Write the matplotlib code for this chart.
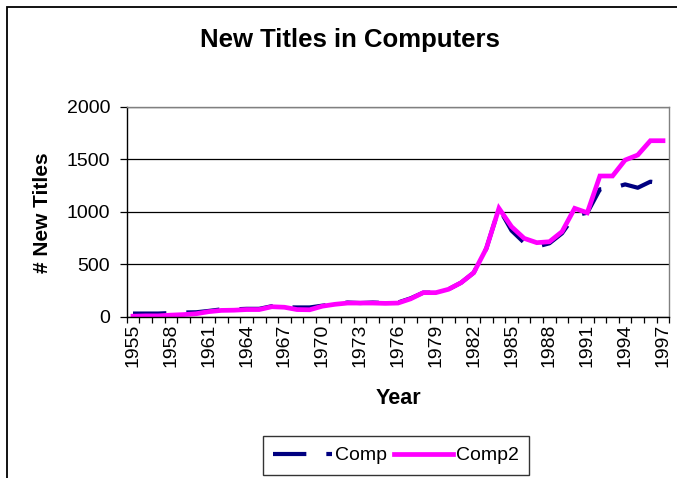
import numpy as np
import matplotlib.pyplot as plt
from matplotlib.patches import Rectangle
from matplotlib.lines import Line2D

plt.rcParams['font.family'] = ['Liberation Sans', 'DejaVu Sans']

years = list(range(1955, 1998))
comp = [30, 30, 30, 35, 40, 42, 55, 70, 70, 75, 75, 100, 90, 88, 88, 105,
        120, 135, 130, 135, 130, 135, 175, 229, 229, 261, 324, 419, 650, 1032,
        820, 705, 667, 699, 794, 965, 990, 1213, 1225, 1260, 1228, 1286, 1270]
comp2 = [5, 8, 8, 15, 20, 28, 48, 60, 62, 68, 68, 95, 90, 68, 66, 100,
         118, 130, 130, 130, 127, 130, 170, 229, 229, 261, 324, 419, 650, 1032,
         857, 746, 705, 714, 810, 1032, 990, 1340, 1340, 1492, 1540, 1676, 1676]
yticks = [0, 500, 1000, 1500, 2000]

W, H = 677, 478
fig = plt.figure(figsize=(W / 100, H / 100), dpi=100)
ax = fig.add_axes([126.7 / W, 1 - 316.7 / H, (669.3 - 126.7) / W, (316.7 - 106.7) / H])

# outer chart border (only left and top edges fall inside the image)
fig.patches.append(Rectangle((7 / W, -0.1), 1.2, (H - 7) / H + 0.1,
                             transform=fig.transFigure, fill=False,
                             edgecolor='black', linewidth=1.3))

navy_dash = (8, 4.8)
x = np.arange(len(years))
ax.plot(x, comp, color='#000080', linewidth=3.0, dashes=navy_dash,
        label='Comp')
ax.plot(x, comp2, color='#FF00FF', linewidth=3.4, solid_joinstyle='miter',
        label='Comp2')

ax.set_xlim(-0.5, len(years) - 0.5)
ax.set_ylim(0, 2000)
ax.set_yticks(yticks)
ax.set_yticklabels([str(v) for v in yticks], fontsize=14)
ax.tick_params(axis='y', direction='out', length=5, width=0.9, pad=7)

# tick marks between categories, labels every third year
ax.set_xticks(np.arange(-0.5, len(years), 1.0))
ax.set_xticklabels([])
ax.set_xticks(x[::3], minor=True)
ax.set_xticklabels([str(y) for y in years[::3]], minor=True, rotation=90,
                   fontsize=14)
ax.tick_params(axis='x', which='major', direction='out', length=4, width=0.9)
ax.tick_params(axis='x', which='minor', length=0, pad=5)

ax.yaxis.grid(True, color='black', linewidth=0.9)
ax.set_axisbelow(True)
for side in ['top', 'right']:
    ax.spines[side].set_color('#808080')
    ax.spines[side].set_linewidth(1.0)
for side in ['left', 'bottom']:
    ax.spines[side].set_color('black')
    ax.spines[side].set_linewidth(1.0)

fig.text(350 / W, 1 - 40 / H, 'New Titles in Computers', ha='center',
         va='center', fontsize=18.5, fontweight='bold')
fig.text(42 / W, 1 - 213 / H, '# New Titles', ha='center', va='center',
         rotation=90, fontsize=15, fontweight='bold')
fig.text(398 / W, 1 - 398 / H, 'Year', ha='center', va='center',
         fontsize=15.5, fontweight='bold')

handles = [Line2D([], [], color='#000080', linewidth=3.0, dashes=navy_dash),
           Line2D([], [], color='#FF00FF', linewidth=3.4)]
leg = fig.legend(handles, ['Comp', 'Comp2'], loc='center',
                 bbox_to_anchor=(396 / W, 1 - 455.5 / H), ncol=2,
                 fontsize=14, frameon=True, fancybox=False, handlelength=3.0,
                 handletextpad=0.15, columnspacing=0.4, borderpad=0.55,
                 borderaxespad=0)
leg.get_frame().set_edgecolor('black')
leg.get_frame().set_linewidth(1.0)

fig.savefig('out.png', dpi=100)
